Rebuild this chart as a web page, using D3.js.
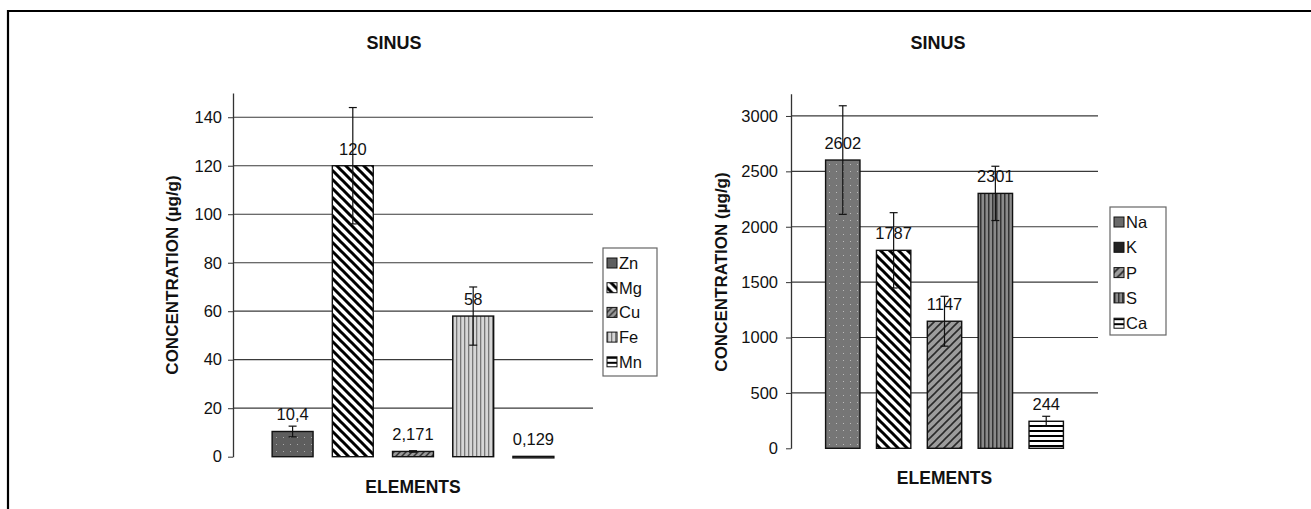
<!DOCTYPE html>
<html>
<head>
<meta charset="utf-8">
<script src="https://cdn.jsdelivr.net/npm/d3@7"></script>
<style>
  body { margin: 0; background: #fff; }
  text { font-family: "Liberation Sans", Arial, sans-serif; fill: #111; }
</style>
</head>
<body>
<svg id="chart" width="1311" height="509"></svg>
<script>
// left panel: trace elements
var leftCats = ["Zn", "Mg", "Cu", "Fe", "Mn"];
var leftValues = [10.4, 120, 2.171, 58, 0.129];
var leftErrors = [2.2, 24, 0.3, 12, 0];
var leftLabels = ["10,4", "120", "2,171", "58", "0,129"];
var leftTicks = [0, 20, 40, 60, 80, 100, 120, 140];

// right panel: major elements
var rightCats = ["Na", "K", "P", "S", "Ca"];
var rightValues = [2602, 1787, 1147, 2301, 244];
var rightErrors = [490, 340, 225, 245, 45];
var rightLabels = ["2602", "1787", "1147", "2301", "244"];
var rightTicks = [0, 500, 1000, 1500, 2000, 2500, 3000];

var svg = d3.select("#chart");

// frame round the figure (open to the right and bottom like the scan)
svg.append("path")
  .attr("d", "M8,509 L8,11 L1311,11")
  .attr("fill", "none").attr("stroke", "#000").attr("stroke-width", 2.2);

var defs = svg.append("defs");

function pattern(id, w, h, bg, draw) {
  var p = defs.append("pattern").attr("id", id)
    .attr("patternUnits", "userSpaceOnUse").attr("width", w).attr("height", h);
  p.append("rect").attr("width", w).attr("height", h).attr("fill", bg);
  draw(p);
}
// dotted dark grey
pattern("dotsDark", 7, 7, "#5e5e5e", p => p.append("rect").attr("x", 3).attr("y", 3).attr("width", 1).attr("height", 1).attr("fill", "#aaa"));
pattern("dotsMid", 7, 7, "#767676", p => p.append("rect").attr("x", 3).attr("y", 3).attr("width", 1).attr("height", 1).attr("fill", "#bbb"));
// wide downward diagonal
pattern("diagDown", 9, 9, "#fff", p => {
  p.append("path").attr("d", "M-2,-2 L11,11 M-2,7 L2,11 M7,-2 L11,2").attr("stroke", "#000").attr("stroke-width", 3);
});
// upward diagonal on grey
pattern("diagUpL", 6, 6, "#9a9a9a", p => {
  p.append("path").attr("d", "M-1,7 L7,-1 M-1,1 L1,-1 M5,7 L7,5").attr("stroke", "#333").attr("stroke-width", 1.5);
});
pattern("diagUpR", 8, 8, "#9c9c9c", p => {
  p.append("path").attr("d", "M-1,9 L9,-1 M-1,1 L1,-1 M7,9 L9,7").attr("stroke", "#2a2a2a").attr("stroke-width", 1.6);
});
// vertical stripes
pattern("vertL", 4, 4, "#d6d6d6", p => p.append("rect").attr("x", 0).attr("width", 1.3).attr("height", 4).attr("fill", "#777"));
pattern("vertR", 4, 4, "#8a8a8a", p => p.append("rect").attr("x", 0).attr("width", 1.5).attr("height", 4).attr("fill", "#333"));
// horizontal stripes
pattern("horiz", 5, 5, "#fff", p => p.append("rect").attr("y", 0).attr("width", 5).attr("height", 2).attr("fill", "#000"));

var leftFills = ["url(#dotsDark)", "url(#diagDown)", "url(#diagUpL)", "url(#vertL)", "url(#horiz)"];
var rightFills = ["url(#dotsMid)", "url(#diagDown)", "url(#diagUpR)", "url(#vertR)", "url(#horiz)"];
var leftSwatch = ["#5e5e5e", "url(#diagDown)", "url(#diagUpL)", "url(#vertL)", "url(#horiz)"];
var rightSwatch = ["#6a6a6a", "#222", "url(#diagUpR)", "url(#vertR)", "url(#horiz)"];

var FONT = "'Liberation Sans', Arial, sans-serif";

function drawPanel(cfg) {
  var x = d3.scaleBand().domain(cfg.cats).range([cfg.x0, cfg.x1])
    .paddingInner(cfg.pIn).paddingOuter(cfg.pOut);
  var y = d3.scaleLinear().domain([0, cfg.max]).range([cfg.yBase, cfg.yTop]);
  var g = svg.append("g");

  // gridlines
  g.selectAll(".grid").data(cfg.ticks.filter(t => t > 0)).enter().append("line")
    .attr("x1", cfg.x0).attr("x2", cfg.x1)
    .attr("y1", d => y(d)).attr("y2", d => y(d))
    .attr("stroke", "#3a3a3a").attr("stroke-width", 1.2);

  var axis = g.append("g").attr("transform", "translate(" + cfg.x0 + ",0)")
    .call(d3.axisLeft(y).tickValues(cfg.ticks).tickFormat(d3.format("d"))
      .tickSize(5).tickSizeOuter(0).tickPadding(cfg.tickPad));
  axis.select(".domain").attr("stroke", "#333").attr("stroke-width", 1.3);
  axis.selectAll(".tick line").attr("stroke", "#333");
  axis.selectAll("text").style("font-size", "16.5px").attr("fill", "#111")
    .style("font-family", FONT);

  var idx = d3.range(cfg.cats.length);
  // bars
  g.selectAll(".bar").data(idx).enter().append("rect")
    .attr("x", i => x(cfg.cats[i]))
    .attr("width", x.bandwidth())
    .attr("y", i => y(cfg.values[i]))
    .attr("height", i => Math.max(1.5, y(0) - y(cfg.values[i])))
    .attr("fill", i => cfg.fills[i])
    .attr("stroke", "#111").attr("stroke-width", 1.4);

  // error bars
  var eb = g.selectAll(".err").data(idx.filter(i => cfg.errors[i] > 0)).enter().append("g");
  var cx = i => x(cfg.cats[i]) + x.bandwidth() / 2;
  eb.append("line")
    .attr("x1", cx).attr("x2", cx)
    .attr("y1", i => y(cfg.values[i] + cfg.errors[i]))
    .attr("y2", i => y(cfg.values[i] - cfg.errors[i]))
    .attr("stroke", "#111").attr("stroke-width", 1.2);
  [1, -1].forEach(s => {
    eb.append("line")
      .attr("x1", i => cx(i) - 4).attr("x2", i => cx(i) + 4)
      .attr("y1", i => y(cfg.values[i] + s * cfg.errors[i]))
      .attr("y2", i => y(cfg.values[i] + s * cfg.errors[i]))
      .attr("stroke", "#111").attr("stroke-width", 1.2);
  });

  // value labels
  g.selectAll(".lbl").data(idx).enter().append("text")
    .attr("x", cx).attr("y", i => y(cfg.values[i]) - 11)
    .attr("text-anchor", "middle").style("font-size", "16.5px")
    .text(i => cfg.labels[i]);

  // titles
  g.append("text").attr("x", cfg.titleX).attr("y", 49).attr("text-anchor", "middle")
    .style("font-size", "18px").style("font-weight", "bold").text("SINUS");
  g.append("text").attr("x", (cfg.x0 + cfg.x1) / 2).attr("y", cfg.xTitleY).attr("text-anchor", "middle")
    .style("font-size", "17.5px").style("font-weight", "bold").text("ELEMENTS");
  g.append("text")
    .attr("transform", "translate(" + cfg.yTitleX + "," + cfg.yTitleY + ") rotate(-90)")
    .attr("text-anchor", "middle").style("font-size", "17px").style("font-weight", "bold")
    .text("CONCENTRATION (\u00b5g/g)");

  // legend
  var lg = g.append("g").attr("transform", "translate(" + cfg.legX + "," + cfg.legY + ")");
  lg.append("rect").attr("width", cfg.legW).attr("height", cfg.legH)
    .attr("fill", "#fff").attr("stroke", "#666").attr("stroke-width", 1.2);
  var item = lg.selectAll(".item").data(idx).enter().append("g")
    .attr("transform", i => "translate(4," + (15 + i * cfg.legStep) + ")");
  item.append("rect").attr("x", 0).attr("y", -5).attr("width", 10).attr("height", 10)
    .attr("fill", i => cfg.swatch[i]).attr("stroke", "#111").attr("stroke-width", 1);
  item.append("text").attr("x", 12).attr("y", 6).style("font-size", "16.5px")
    .text(i => cfg.cats[i]);
}

drawPanel({
  cats: leftCats, values: leftValues, errors: leftErrors, labels: leftLabels, ticks: leftTicks,
  fills: leftFills, swatch: leftSwatch,
  x0: 233, x1: 593, pIn: 0.32, pOut: 0.65, max: 150, yBase: 456.7, yTop: 93, tickPad: 6,
  titleX: 394, xTitleY: 493, yTitleX: 178, yTitleY: 275,
  legX: 603, legY: 248, legW: 54, legH: 128, legStep: 24.7
});

drawPanel({
  cats: rightCats, values: rightValues, errors: rightErrors, labels: rightLabels, ticks: rightTicks,
  fills: rightFills, swatch: rightSwatch,
  x0: 791, x1: 1098, pIn: 0.324, pOut: 0.68, max: 3200, yBase: 448.3, yTop: 93.8, tickPad: 8,
  titleX: 938, xTitleY: 484, yTitleX: 727, yTitleY: 272,
  legX: 1110, legY: 207, legW: 56, legH: 128, legStep: 25.3
});
</script>
</body>
</html>
